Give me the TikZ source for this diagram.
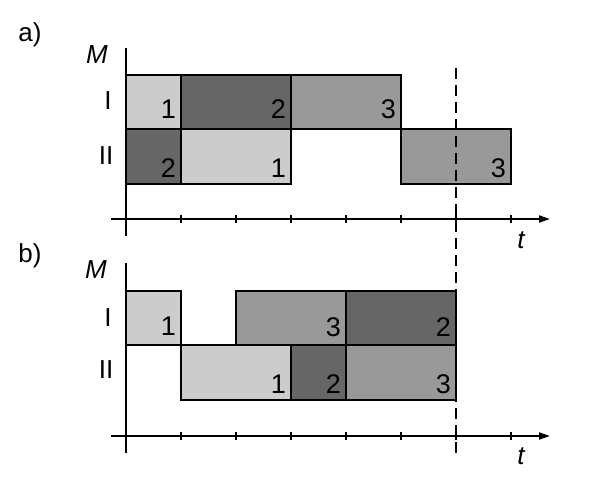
\documentclass[tikz,border=0pt]{standalone}
\usepackage{fontspec}
\setmainfont{Liberation Sans}
\usetikzlibrary{arrows.meta}

\definecolor{job1}{gray}{0.80}
\definecolor{job2}{gray}{0.40}
\definecolor{job3}{gray}{0.60}

\begin{document}
\begin{tikzpicture}[
  x=1pt, y=1pt,
  op/.style={draw, line width=2pt},
  num/.style={anchor=base east, inner sep=0pt, font=\fontsize{27}{27}\selectfont},
  lbl/.style={inner sep=0pt, font=\fontsize{26}{26}\selectfont},
  var/.style={inner sep=0pt, font=\fontsize{26}{26}\selectfont\itshape},
  axis/.style={line width=2pt},
  arr/.style={axis, -{Triangle[length=11pt, width=7pt]}}
]
\useasboundingbox (0,0) rectangle (600,480);

% a) schedule
\foreach \xa/\xb/\ya/\yb/\d/\j in {126/181/351/405/10/1, 181/291/351/405/10/2, 291/401/351/405/10/3,
    126/181/296/351/6/2, 181/291/296/351/6/1, 401/511/296/351/6/3} {
  \draw[op, fill=job\j] (\xa,\ya) rectangle (\xb,\yb);
  \node[num] (a-\xa-\ya) at (\xb-5,\ya+\d) {\j};
}
\draw[axis] (126,244) -- (126,432);
\draw[arr] (111,261) -- (550,261);
\foreach \x in {181,236,...,511}
  \draw[axis] (\x,257) -- (\x,265);
\node[lbl] (labela) at (30,445) {a)};
\node[var] (Ma) at (97,425) {M};
\node[var] (ta) at (521,240) {t};
\node[lbl] (Ia) at (108,379) {I};
\node[lbl] (IIa) at (106,324) {II};

% b) schedule
\foreach \xa/\xb/\ya/\yb/\d/\j in {126/181/135/189/10/1, 236/346/135/189/9/3, 346/456/135/189/9/2,
    181/291/80/135/7/1, 291/346/80/135/7/2, 346/456/80/135/7/3} {
  \draw[op, fill=job\j] (\xa,\ya) rectangle (\xb,\yb);
  \node[num] (b-\xa-\ya) at (\xb-5,\ya+\d) {\j};
}
\draw[axis] (126,27) -- (126,217);
\draw[arr] (111,44) -- (550,44);
\foreach \x in {181,236,...,511}
  \draw[axis] (\x,40) -- (\x,48);
\node[lbl] (labelb) at (30,224) {b)};
\node[var] (Mb) at (96,210) {M};
\node[var] (tb) at (521,24) {t};
\node[lbl] (Ib) at (108,162) {I};
\node[lbl] (IIb) at (106,110) {II};

% deadline
\draw[line width=2pt, dash pattern=on 11pt off 6pt] (456,412) -- (456,25);
\end{tikzpicture}
\end{document}
